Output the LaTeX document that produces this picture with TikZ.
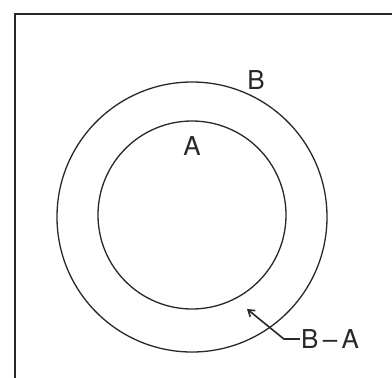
\documentclass[tikz,border=0pt]{standalone}
\usepackage{fontspec}
\setmainfont{TeX Gyre Heros}
\usetikzlibrary{positioning, arrows.meta}
\definecolor{pencil}{RGB}{40,40,40}
\tikzset{
  setring/.style  = {circle, draw=pencil, line width=1.3pt, inner sep=0pt},
  setlabel/.style = {font=\fontsize{26}{30}\selectfont, text=pencil, inner sep=1pt},
  setarrow/.style = {-{Straight Barb[length=6pt,width=8pt]}, line width=1.6pt, draw=pencil}
}

\begin{document}
\begin{tikzpicture}[x=1pt, y=-1pt]
\useasboundingbox (0,0) rectangle (392,378);
% universe frame
\draw[pencil, line width=1.3pt] (15,378) -- (15,14) -- (392,14);

\node[setring, minimum size=270pt] (setB) at (192,217) {};
\node[setring, minimum size=188pt] (setA) at (192,215) {};

\node[setlabel] (labB)  at (256,80)  {B};
\node[setlabel] (labA)  at (192,146) {A};
\node[setlabel] (labBA) at (330,339) {B\,--\,A};

\coordinate (ring) at (247,309);
\draw[setarrow] (labBA.west) -- ++(-16,0) -- (ring);
\end{tikzpicture}
\end{document}
